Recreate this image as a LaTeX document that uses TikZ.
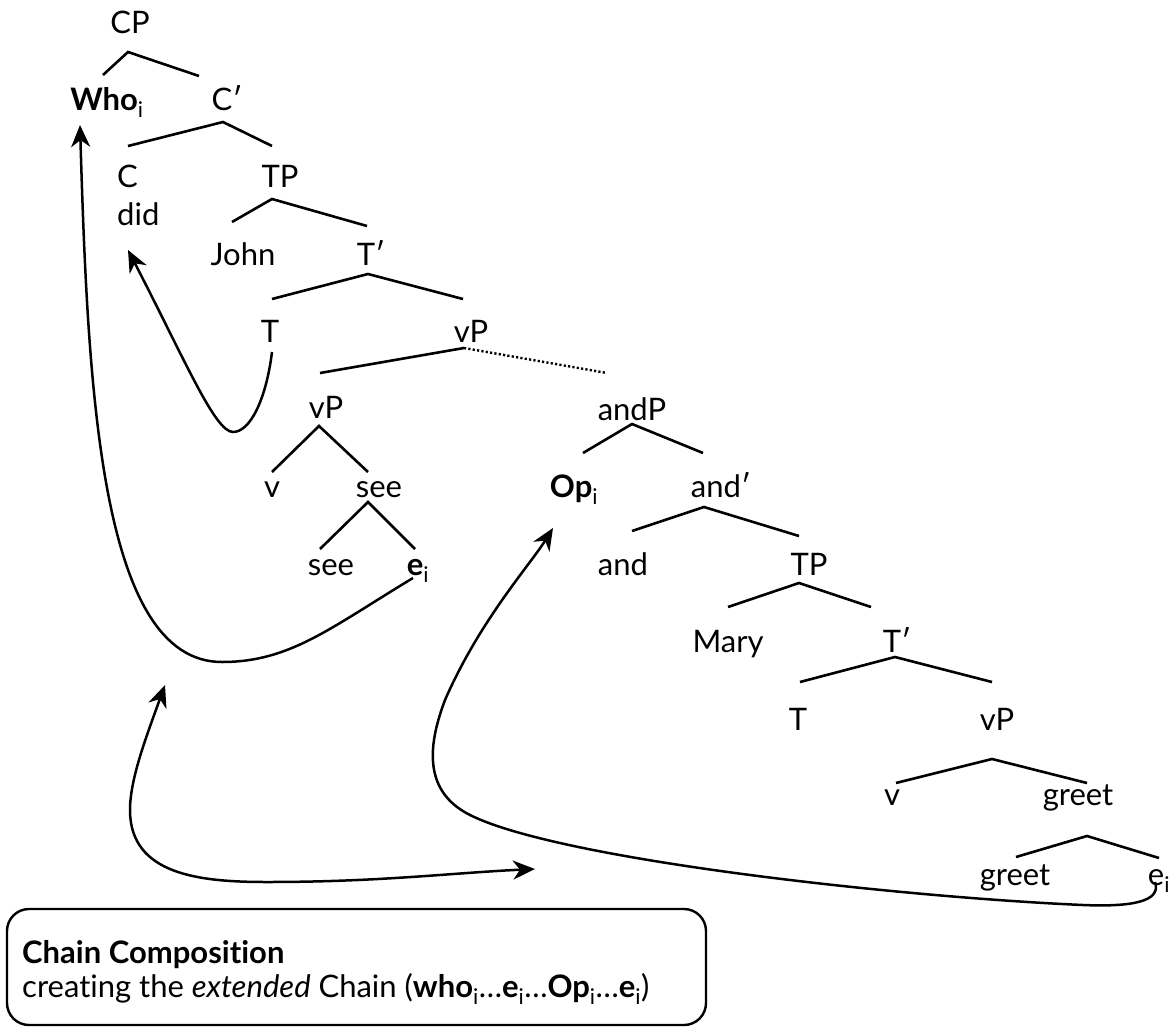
\documentclass[tikz,border=0pt]{standalone}
\usepackage{fontspec}
\setmainfont{Lato}[Ligatures=NoCommon]
\usetikzlibrary{arrows.meta}
\newcommand\idx[1]{\textsubscript{\mdseries #1}}
\begin{document}
\begin{tikzpicture}[x=1pt,y=-1pt,
  lbl/.style={anchor=base, inner sep=0pt, font=\fontsize{31}{36}\selectfont},
  branch/.style={line width=2.6pt},
  mtip/.tip={Stealth[length=22pt,width=19pt,inset=7pt]},
  move/.style={line width=2.5pt, -{mtip}},
]
\useasboundingbox (0,0) rectangle (1173,1028);

% --- labels of the tree
\node[lbl] (CP) at (130,33) {CP};
\node[lbl] (Who) at (107,110) {\textbf{Who}\idx{i}};
\node[lbl] (C1) at (227,110) {C′};
\node[lbl, anchor=base west] (C) at (117,187) {C};
\node[lbl, anchor=base west] (did) at (117,225) {did};
\node[lbl] (TP) at (280,187) {TP};
\node[lbl] (John) at (243,265) {John};
\node[lbl] (T1) at (371,265) {T′};
\node[lbl] (T) at (270,342) {T};
\node[lbl] (vP) at (471,342) {vP};
\node[lbl] (vP2) at (326,418) {vP};
\node[lbl] (v) at (272,497) {v};
\node[lbl] (see1) at (379,497) {see};
\node[lbl] (see2) at (331,575) {see};
\node[lbl] (e1) at (418,575) {\textbf{e}\idx{i}};
\node[lbl] (andP) at (632,420) {andP};
\node[lbl] (Op) at (574,497) {\textbf{Op}\idx{i}};
\node[lbl] (and1) at (721,497) {and′};
\node[lbl] (and) at (623,575) {and};
\node[lbl] (TP2) at (809,575) {TP};
\node[lbl] (Mary) at (728,652) {Mary};
\node[lbl] (T2) at (897,652) {T′};
\node[lbl] (T3) at (798,730) {T};
\node[lbl] (vP3) at (997,730) {vP};
\node[lbl] (v2) at (892,805) {v};
\node[lbl] (greet1) at (1078,805) {greet};
\node[lbl] (greet2) at (1015,885) {greet};
\node[lbl] (e2) at (1159,885) {e\idx{i}};

% --- branches: apex below each mother, ends above each daughter
\coordinate (CP-a) at (128,52);   \coordinate (Who-t) at (103,75);   \coordinate (C1-t) at (199,76);
\coordinate (C1-a) at (223,122);  \coordinate (C-t) at (128,146);    \coordinate (TP-t) at (272,146);
\coordinate (TP-a) at (272,199);  \coordinate (John-t) at (232,222); \coordinate (T1-t) at (367,226);
\coordinate (T1-a) at (368,274);  \coordinate (T-t) at (272,299);    \coordinate (vP-t) at (463,299);
\coordinate (vP-a) at (464,348);  \coordinate (vP2-t) at (320,373);  \coordinate (andP-t) at (607,373);
\coordinate (vP2-a) at (319,426); \coordinate (v-t) at (272,472);    \coordinate (see1-t) at (368,472);
\coordinate (see1-a) at (368,502);\coordinate (see2-t) at (320,549); \coordinate (e1-t) at (415,549);
\coordinate (andP-a) at (632,424);\coordinate (Op-t) at (583,453);   \coordinate (and1-t) at (703,453);
\coordinate (and1-a) at (704,507);\coordinate (and-t) at (632,531);  \coordinate (TP2-t) at (799,536);
\coordinate (TP2-a) at (799,583); \coordinate (Mary-t) at (728,607); \coordinate (T2-t) at (871,607);
\coordinate (T2-a) at (895,657);  \coordinate (T3-t) at (800,682);   \coordinate (vP3-t) at (992,682);
\coordinate (vP3-a) at (992,759); \coordinate (v2-t) at (896,783);   \coordinate (greet1-t) at (1087,783);
\coordinate (greet1-a) at (1087,836); \coordinate (greet2-t) at (1016,857); \coordinate (e2-t) at (1159,858);

\draw[branch] (Who-t) -- (CP-a) -- (C1-t);
\draw[branch] (C-t) -- (C1-a) -- (TP-t);
\draw[branch] (John-t) -- (TP-a) -- (T1-t);
\draw[branch] (T-t) -- (T1-a) -- (vP-t);
\draw[branch] (vP2-t) -- (vP-a);
\draw[branch, dash pattern=on 2.2pt off 2.2pt, line width=2.4pt] (vP-a) -- (andP-t);
\draw[branch] (v-t) -- (vP2-a) -- (see1-t);
\draw[branch] (see2-t) -- (see1-a) -- (e1-t);
\draw[branch] (Op-t) -- (andP-a) -- (and1-t);
\draw[branch] (and-t) -- (and1-a) -- (TP2-t);
\draw[branch] (Mary-t) -- (TP2-a) -- (T2-t);
\draw[branch] (T3-t) -- (T2-a) -- (vP3-t);
\draw[branch] (v2-t) -- (vP3-a) -- (greet1-t);
\draw[branch] (greet2-t) -- (greet1-a) -- (e2-t);

% --- movement arrows
\coordinate (T-foot) at (272,352);  \coordinate (did-foot) at (128,250);
\draw[move] (T-foot) .. controls (266,400) and (250,432) .. (233,432)
  .. controls (215,432) and (185,360) .. (did-foot);

\coordinate (e1-foot) at (413,578); \coordinate (Who-foot) at (80,125);
\draw[move] (e1-foot) .. controls (330,628) and (290,662) .. (222,662)
  .. controls (100,662) and (88,390) .. (Who-foot);

\coordinate (e2-foot) at (1155,882); \coordinate (Op-foot) at (553,528);
\draw[move] (e2-foot) .. controls (1162,902) and (1130,907) .. (1083,905)
  .. controls (900,897) and (560,860) .. (470,815)
  .. controls (420,790) and (430,740) .. (445,700)
  .. controls (480,620) and (530,565) .. (Op-foot);

% --- composition of the two chains
\coordinate (cc-a) at (165,685); \coordinate (cc-b) at (535,869);
\draw[line width=2.5pt, {mtip}-{mtip}] (cc-a) .. controls (145,740) and (130,780) .. (130,810)
  .. controls (130,875) and (200,882) .. (267,882)
  .. controls (380,882) and (450,873) .. (cc-b);

% --- caption box
\node[draw, line width=2.4pt, rounded corners=22pt, minimum width=699pt, minimum height=116pt, inner sep=0pt] (box) at (356.5,967) {};
\node[lbl, anchor=base west] (title) at (22,963) {\textbf{Chain Composition}};
\node[lbl, anchor=base west] (caption) at (22,997) {creating the \textit{extended} Chain (\textbf{who}\idx{i}…\textbf{e}\idx{i}…\textbf{Op}\idx{i}…\textbf{e}\idx{i})};
\end{tikzpicture}
\end{document}
